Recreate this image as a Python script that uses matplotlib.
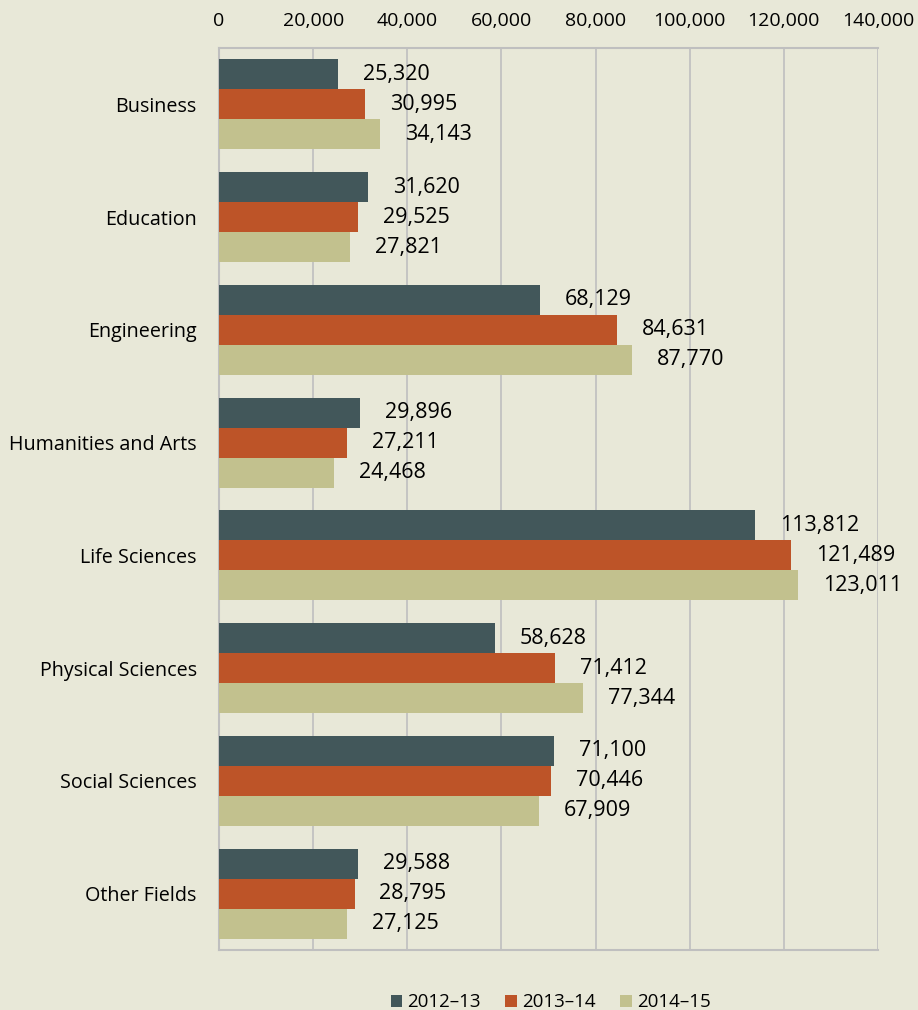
import matplotlib.pyplot as plt
import numpy as np

fields = ["Business", "Education", "Engineering", "Humanities and Arts",
          "Life Sciences", "Physical Sciences", "Social Sciences", "Other Fields"]
years = ["2012\u201313", "2013\u201314", "2014\u201315"]
v2012 = [25320, 31620, 68129, 29896, 113812, 58628, 71100, 29588]
v2013 = [30995, 29525, 84631, 27211, 121489, 71412, 70446, 28795]
v2014 = [34143, 27821, 87770, 24468, 123011, 77344, 67909, 27125]
colors = ["#42575A", "#BD5428", "#C2C18E"]
bg = "#E8E8D8"

plt.rcParams["font.family"] = ["Open Sans", "DejaVu Sans"]

fig = plt.figure(figsize=(9.18, 10.10), dpi=100, facecolor=bg)
ax = fig.add_axes([219 / 918, 1 - 950 / 1010, 659 / 918, 902 / 1010])
ax.set_facecolor(bg)

y = np.arange(len(fields))
h = 0.266
for i, (vals, lab) in enumerate(zip([v2012, v2013, v2014], years)):
    pos = y + (i - 1) * h
    ax.barh(pos, vals, height=h, color=colors[i], label=lab, zorder=3)
    for p, v in zip(pos, vals):
        ax.text(v + 5300, p, f"{v:,}", va="center", ha="left", fontsize=15.5, color="black", zorder=4)

ax.set_xlim(0, 140000)
ax.set_ylim(len(fields) - 0.5, -0.5)
ax.set_xticks(np.arange(0, 140001, 20000))
ax.xaxis.set_major_formatter(plt.FuncFormatter(lambda x, _: f"{int(x):,}"))
ax.xaxis.tick_top()
ax.tick_params(axis="x", length=0, labelsize=14, pad=13)
ax.tick_params(axis="y", length=0, labelsize=14.2, pad=16)
ax.set_yticks(y)
ax.set_yticklabels(fields)
ax.grid(axis="x", color="#BFBFBF", linewidth=1.2, zorder=0)
ax.spines["right"].set_visible(False)
for s in ["top", "left", "bottom"]:
    ax.spines[s].set_color("#BFBFBF")
    ax.spines[s].set_linewidth(1.5)

fig.legend(loc="lower center", bbox_to_anchor=(0.6, -0.018), ncol=3, frameon=False,
           fontsize=13.5, handlelength=0.6, handleheight=0.6, columnspacing=1.3, handletextpad=0.3)

fig.savefig("out.png", dpi=100, facecolor=bg)
